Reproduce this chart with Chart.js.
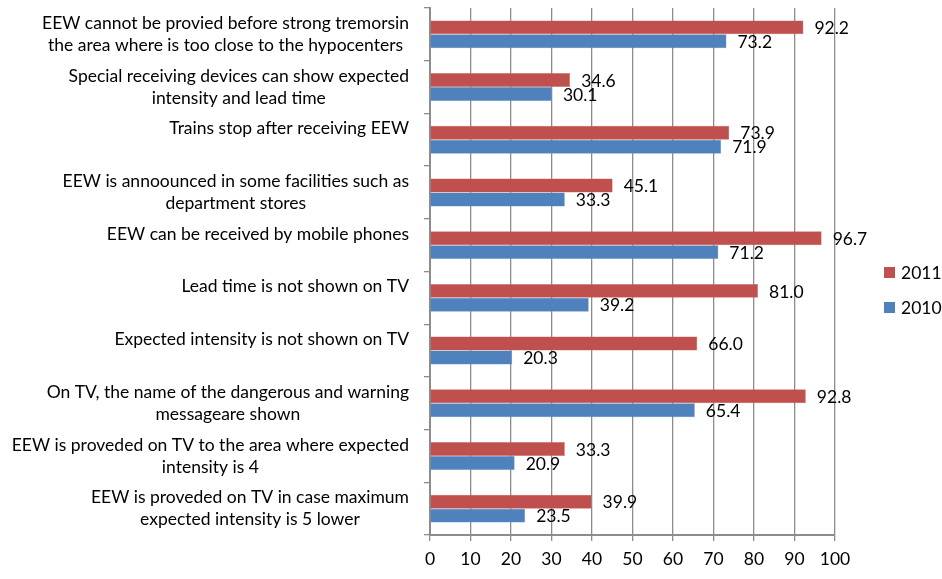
<!DOCTYPE html>
<html>
<head>
<meta charset="utf-8">
<script src="https://cdn.jsdelivr.net/npm/chart.js@4.4.1/dist/chart.umd.min.js"></script>
<style>
  html, body { margin: 0; padding: 0; background: #fff; }
  #wrap { width: 942px; height: 579px; }
</style>
</head>
<body>
<div id="wrap"><canvas id="chart" width="942" height="579"></canvas></div>
<script>
// Category labels (one entry per line, empty line keeps Excel's spacing)
const categories = [
  ['EEW cannot be provied before strong tremorsin', 'the area where is too close to the hypocenters'],
  ['Special receiving devices can show expected', 'intensity and lead time'],
  ['Trains stop after receiving EEW', ''],
  ['EEW is annoounced in some facilities such as', 'department stores'],
  ['EEW can be received by mobile phones', ''],
  ['Lead time is not shown on TV', ''],
  ['Expected intensity is not shown on TV', ''],
  ['On TV, the name of the dangerous and warning', 'messageare shown'],
  ['EEW is proveded on TV to the area where expected', 'intensity is 4'],
  ['EEW is proveded on TV in case maximum', 'expected intensity is 5 lower']
];
const values2011 = [92.2, 34.6, 73.9, 45.1, 96.7, 81.0, 66.0, 92.8, 33.3, 39.9];
const values2010 = [73.2, 30.1, 71.9, 33.3, 71.2, 39.2, 20.3, 65.4, 20.9, 23.5];
const xTicks = [0, 10, 20, 30, 40, 50, 60, 70, 80, 90, 100];

const FONT = 'Lato, "Open Sans", sans-serif';
const FONT_SIZE = 17.5;
const gridColor = '#8c8c8c';

// Draws wrapped category labels (centred lines, right-aligned block),
// the value labels at the bar ends, and the legend on the right
const labelsPlugin = {
  id: 'labelsPlugin',
  afterDraw(chart) {
    const ctx = chart.ctx;
    const yScale = chart.scales.y;
    ctx.save();
    ctx.fillStyle = '#000';
    ctx.font = FONT_SIZE + 'px ' + FONT;
    ctx.textBaseline = 'middle';
    ctx.textAlign = 'center';
    const right = 409;
    const lineH = 22;
    categories.forEach((lines, i) => {
      const cy = yScale.getPixelForValue(i);
      const maxW = Math.max(...lines.map(l => ctx.measureText(l).width));
      const cx = right - maxW / 2;
      const top = cy - (lines.length - 1) * lineH / 2;
      lines.forEach((l, j) => ctx.fillText(l, cx, top + j * lineH));
    });

    // value labels
    ctx.textAlign = 'left';
    chart.data.datasets.forEach((ds, di) => {
      const meta = chart.getDatasetMeta(di);
      meta.data.forEach((bar, i) => {
        ctx.fillText(ds.data[i].toFixed(1), bar.x + 11, bar.y + 1);
      });
    });

    // legend
    const items = chart.data.datasets;
    items.forEach((ds, i) => {
      const y = 273 + i * 35;
      ctx.fillStyle = ds.backgroundColor;
      ctx.fillRect(884, y - 6, 11, 11);
      ctx.fillStyle = '#000';
      ctx.fillText(ds.label, 901, y);
    });
    ctx.restore();
  }
};

new Chart(document.getElementById('chart'), {
  type: 'bar',
  data: {
    labels: categories.map(c => c.join(' ')),
    datasets: [
      { label: '2011', data: values2011, backgroundColor: '#C0504D', borderColor: '#D0706D', borderWidth: 0.5 },
      { label: '2010', data: values2010, backgroundColor: '#4F81BD', borderColor: '#7199CB', borderWidth: 0.5 }
    ]
  },
  options: {
    indexAxis: 'y',
    responsive: false,
    animation: false,
    datasets: { bar: { categoryPercentage: 0.53, barPercentage: 1.0 } },
    layout: { padding: { left: 424, right: 107, top: 8, bottom: 1 } },
    plugins: {
      legend: { display: false },
      tooltip: { enabled: false }
    },
    scales: {
      x: {
        min: 0,
        max: 100,
        afterBuildTicks: (scale) => { scale.ticks = xTicks.map(v => ({ value: v })); },
        grid: { color: gridColor, lineWidth: 1.3, tickLength: 6, drawTicks: true },
        border: { color: gridColor, width: 2 },
        ticks: { color: '#000', font: { family: FONT, size: FONT_SIZE }, padding: 8 }
      },
      y: {
        grid: { drawOnChartArea: false, color: gridColor, lineWidth: 1.3, tickLength: 6 },
        border: { color: gridColor, width: 2 },
        ticks: { display: false }
      }
    }
  },
  plugins: [labelsPlugin]
});
</script>
</body>
</html>
